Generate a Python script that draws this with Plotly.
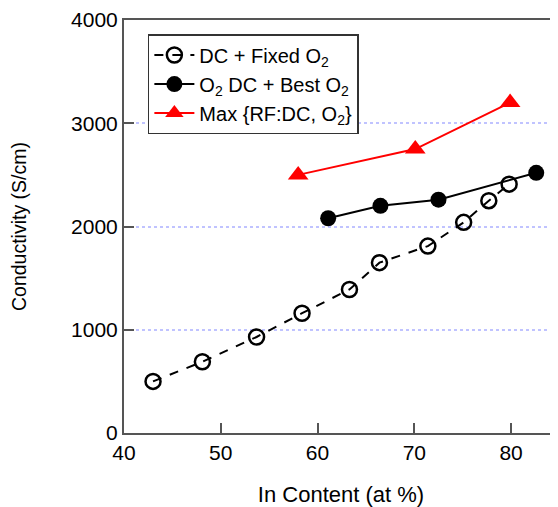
import plotly.graph_objects as go

fixed_x = [43.0, 48.1, 53.7, 58.4, 63.3, 66.4, 71.4, 75.1, 77.7, 79.8]
fixed_y = [500, 690, 930, 1160, 1390, 1650, 1810, 2040, 2250, 2410]
best_x = [61.1, 66.5, 72.5, 82.6]
best_y = [2080, 2200, 2260, 2520]
max_x = [58.0, 70.1, 79.9]
max_y = [2500, 2750, 3200]

fig = go.Figure()
fig.add_trace(go.Scatter(x=fixed_x, y=fixed_y, mode="lines+markers",
    name="DC + Fixed O<sub>2</sub>",
    line=dict(color="black", width=2, dash="dash"),
    marker=dict(symbol="circle-open", size=15, color="black", line=dict(width=2.5))))
fig.add_trace(go.Scatter(x=best_x, y=best_y, mode="lines+markers",
    name="O<sub>2</sub> DC + Best O<sub>2</sub>",
    line=dict(color="black", width=2),
    marker=dict(symbol="circle", size=16, color="black")))
fig.add_trace(go.Scatter(x=max_x, y=max_y, mode="lines+markers",
    name="Max {RF:DC, O<sub>2</sub>}",
    line=dict(color="red", width=2),
    marker=dict(symbol="triangle-up", size=18, color="red")))

font = "Liberation Sans"
fig.update_layout(
    width=550, height=499,
    margin=dict(l=116, r=0, t=12, b=74),
    plot_bgcolor="white", paper_bgcolor="white",
    font=dict(family=font, size=21, color="black"),
    showlegend=True,
    legend=dict(x=0.055, y=0.966, xanchor="left", yanchor="top",
                bordercolor="#333", borderwidth=1.5, bgcolor="white",
                font=dict(family=font, size=20), tracegroupgap=0, itemwidth=40),
    xaxis=dict(range=[40, 84.85], tickvals=[40, 50, 60, 70, 80],
               ticks="inside", ticklen=10, tickwidth=1.5, tickcolor="#555",
               tickfont=dict(family=font, size=21),
               showline=True, linecolor="#555", linewidth=2, mirror=True,
               showgrid=False, zeroline=False,
               title=dict(text="In Content (at %)", font=dict(family=font, size=22), standoff=25)),
    yaxis=dict(range=[0, 4000], tickvals=[0, 1000, 2000, 3000, 4000],
               ticks="inside", ticklen=10, tickwidth=1.5, tickcolor="#555",
               tickfont=dict(family=font, size=21),
               showline=True, linecolor="#555", linewidth=2,
               showgrid=True, gridcolor="#c0c3ff", griddash="dot", gridwidth=1.5,
               zeroline=False,
               title=dict(text="Conductivity (S/cm)", font=dict(family=font, size=19.5), standoff=40)),
)
fig.write_html("out.html")
